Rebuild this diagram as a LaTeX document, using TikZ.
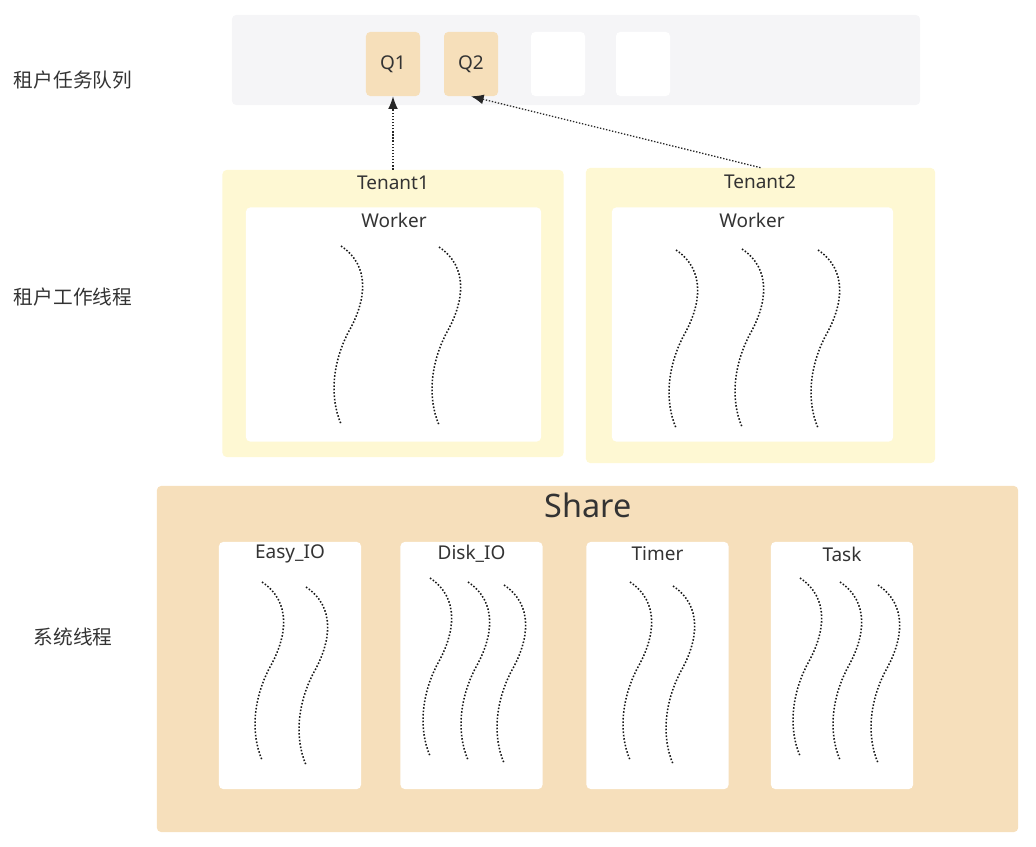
\documentclass[tikz,border=0pt]{standalone}
\usepackage{fontspec}
\setmainfont{Noto Sans}
\newfontfamily\cjk{Noto Sans CJK SC}
\usetikzlibrary{arrows.meta}

\definecolor{txtgray}{HTML}{333333}
\definecolor{bargray}{HTML}{F5F5F7}
\definecolor{qorange}{HTML}{F6DFBA}
\definecolor{tyellow}{HTML}{FEF8D3}
\definecolor{shareorange}{HTML}{F6DFBB}

\tikzset{
  box/.style={rounded corners=3pt, inner sep=0pt},
  lbl/.style={text=txtgray, font=\fontsize{13.5}{15}\selectfont},
  sidelbl/.style={text=txtgray, font=\cjk\fontsize{14}{16}\selectfont},
  thread/.style={line width=1.1pt, black!90, dash pattern=on 1.1pt off 1.3pt},
  qarrow/.style={line width=0.9pt, black!85, dash pattern=on 1pt off 1.2pt, -{Latex[length=9pt,width=7pt]}}
}

\begin{document}
\begin{tikzpicture}[x=0.025cm, y=-0.025cm]
\useasboundingbox (0,0) rectangle (1036,846);
% queue row
\node [box, fill=bargray, minimum width=17.2cm, minimum height=2.25cm] (bar) at (576,60) {};
\node [box, fill=qorange, minimum width=1.35cm, minimum height=1.6cm, lbl] (qA) at (393,64) {Q1};
\node [box, fill=qorange, minimum width=1.35cm, minimum height=1.6cm, lbl] (qB) at (471,64) {Q2};
\node [box, fill=white, minimum width=1.35cm, minimum height=1.6cm] (qC) at (558,64) {};
\node [box, fill=white, minimum width=1.35cm, minimum height=1.6cm] (qD) at (643,64) {};
%
% tenants
\node [box, fill=tyellow, minimum width=8.525cm, minimum height=7.175cm] (tenantA) at (393,313.5) {};
\node [box, fill=white, minimum width=7.375cm, minimum height=5.85cm] (workerA) at (393.5,324.5) {};
\node [lbl] (tenantAlbl) at (393,183) {Tenant1};
\node [lbl] (workerAlbl) at (394,220) {Worker};
\node [box, fill=tyellow, minimum width=8.725cm, minimum height=7.375cm] (tenantB) at (760.5,315.5) {};
\node [box, fill=white, minimum width=7.025cm, minimum height=5.85cm] (workerB) at (752.5,324.5) {};
\node [lbl] (tenantBlbl) at (760,182) {Tenant2};
\node [lbl] (workerBlbl) at (752,220) {Worker};
%
\draw [qarrow] (tenantA.north) -- (qA.south);
\draw [qarrow] (tenantB.north) -- (qB.south);
%
% share
\node [box, fill=shareorange, minimum width=21.525cm, minimum height=8.65cm] (share) at (587.5,659) {};
\node [text=txtgray, font=\fontsize{23}{27}\selectfont] (sharelbl) at (588,505) {Share};
\node [box, fill=white, minimum width=3.55cm, minimum height=6.175cm] (easy) at (290,665.5) {};
\node [box, fill=white, minimum width=3.55cm, minimum height=6.175cm] (disk) at (471.5,665.5) {};
\node [box, fill=white, minimum width=3.55cm, minimum height=6.175cm] (timer) at (657.5,665.5) {};
\node [box, fill=white, minimum width=3.55cm, minimum height=6.175cm] (task) at (842,665.5) {};
\node [lbl] (easylbl) at (290,554) {Easy\_IO};
\node [lbl] (disklbl) at (471.5,554) {Disk\_IO};
\node [lbl] (timerlbl) at (657.5,554) {Timer};
\node [lbl] (tasklbl) at (842,554) {Task};
%
% threads
\foreach \x/\y in {341/246, 439/247, 676/250, 742/249, 818/250,
                   262/582, 306/587, 430/578, 468/582, 504/585,
                   630/582, 673/586, 800/578, 840/582, 878/585}
  \draw [thread] (\x,\y) .. controls (\x+30,\y+20) and (\x+25,\y+55) .. (\x+8,\y+85)
                          .. controls (\x-8,\y+115) and (\x-12,\y+150) .. (\x,\y+178);
%
% side labels
\node [sidelbl] (rowA) at (73,80) {租户任务队列};
\node [sidelbl] (rowB) at (73,297) {租户工作线程};
\node [sidelbl] (rowC) at (73,637) {系统线程};
\end{tikzpicture}
\end{document}
